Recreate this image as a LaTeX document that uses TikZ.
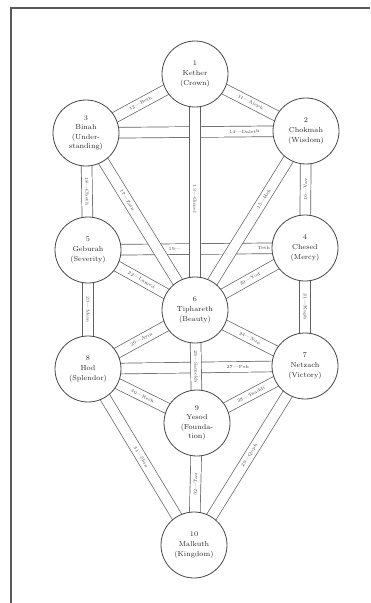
\documentclass[tikz,border=0pt]{standalone}
\pgfdeclarelayer{bands}
\pgfsetlayers{bands,main}
\begin{document}
\begin{tikzpicture}[x=1pt,y=-1pt,
  sefira/.style={circle,draw=black!72,line width=0.8pt,fill=white,minimum size=66pt,inner sep=0pt,align=center,text=black!85,font=\fontsize{7.2}{9.6}\selectfont},
  band/.style={draw=black!62,line width=0.7pt,double=white,double distance=10pt},
  plabel/.style={sloped,font=\fontsize{4.5}{5}\selectfont,inner sep=0pt,text=black!75}]
\useasboundingbox (0,0) rectangle (370,603);
\draw[black!65,line width=2.5pt] (11,603) -- (11,8) -- (370,8);
\node[sefira] (k)  at (195,74)  {1\\Kether\\(Crown)};
\node[sefira] (ch) at (306,131) {2\\Chokmah\\(Wisdom)};
\node[sefira] (bi) at (86,133)  {3\\Binah\\(Under-\\standing)};
\node[sefira] (ce) at (305,248) {4\\Chesed\\(Mercy)};
\node[sefira] (ge) at (88,250)  {5\\Geburah\\(Severity)};
\node[sefira] (ti) at (195,310) {6\\Tiphareth\\(Beauty)};
\node[sefira] (ne) at (305,366) {7\\Netzach\\(Victory)};
\node[sefira] (ho) at (88,369)  {8\\Hod\\(Splendor)};
\node[sefira] (ye) at (197,423) {9\\Yesod\\(Founda-\\tion)};
\node[sefira] (ma) at (194,545) {10\\Malkuth\\(Kingdom)};
\begin{pgfonlayer}{bands}
% horizontals first
\draw[band] (bi.center) -- node[plabel,pos=0.72]{14---Daleth} (ch.center);
\draw[band] (ge.center) -- node[plabel,pos=0.40]{19---} node[plabel,pos=0.81]{Teth} (ce.center);
\draw[band] (ho.center) -- node[plabel,pos=0.69]{27---Peh} (ne.center);
% diagonals
\draw[band] (k.center) -- node[plabel]{11---Aleph} (ch.center);
\draw[band] (k.center) -- node[plabel]{12---Beth} (bi.center);
\draw[band] (ch.center) -- node[plabel,pos=0.38]{15---Heh} (ti.center);
\draw[band] (bi.center) -- node[plabel,pos=0.38]{17---Zain} (ti.center);
\draw[band] (ce.center) -- node[plabel]{20---Yod} (ti.center);
\draw[band] (ge.center) -- node[plabel]{22---Lamed} (ti.center);
\draw[band] (ti.center) -- node[plabel]{24---Nun} (ne.center);
\draw[band] (ti.center) -- node[plabel]{26---Ayin} (ho.center);
\draw[band] (ne.center) -- node[plabel]{28---Tzaddi} (ye.center);
\draw[band] (ho.center) -- node[plabel]{30---Resh} (ye.center);
\draw[band] (ne.center) -- node[plabel]{29---Qoph} (ma.center);
\draw[band] (ho.center) -- node[plabel]{31---Shin} (ma.center);
% verticals
\draw[band] (k.center) -- node[plabel,pos=0.53]{13---Gimel} (ti.center);
\draw[band] (ch.center) -- node[plabel]{16---Vav} (ce.center);
\draw[band] (bi.center) -- node[plabel]{18---Cheth} (ge.center);
\draw[band] (ce.center) -- node[plabel]{21---Kaph} (ne.center);
\draw[band] (ge.center) -- node[plabel]{23---Mem} (ho.center);
\draw[band] (ti.center) -- node[plabel]{25---Samekh} (ye.center);
\draw[band] (ye.center) -- node[plabel]{32---Tau} (ma.center);
\end{pgfonlayer}
\end{tikzpicture}
\end{document}
